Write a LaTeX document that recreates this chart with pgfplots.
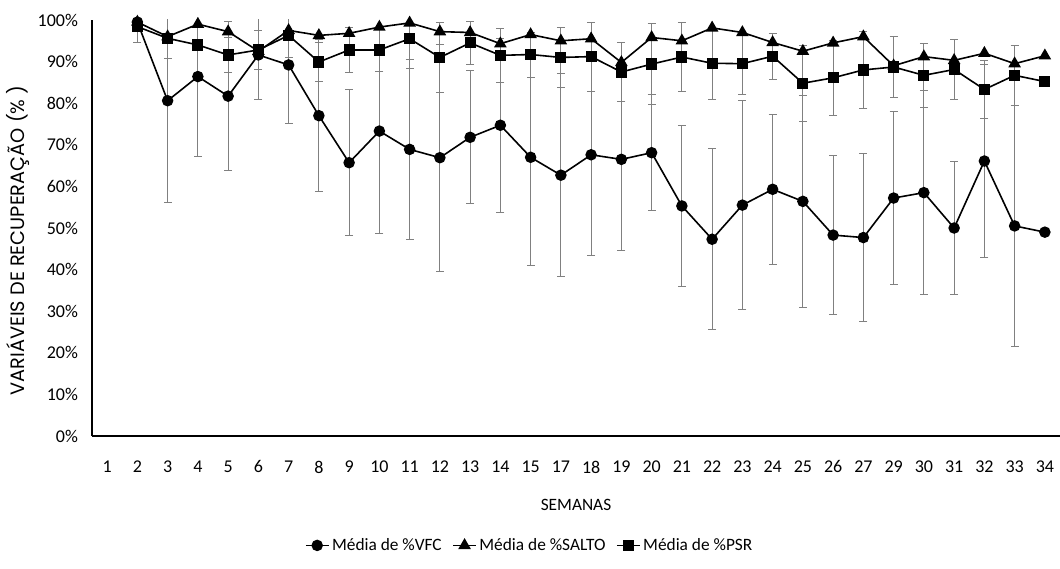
\documentclass[border=0pt]{standalone}
\usepackage{pgfplots}
\pgfplotsset{compat=1.18}
\usepackage{pgfplotstable}
\usepackage{fontspec}
\setmainfont{Carlito}
\newfontfamily\gothic{Poppins}

% x = posicao da categoria (0 = semana 1)
\pgfplotstableread{
x  vfc  evfc  salto  psr   epsr
1  99.5  0.0  99.5   98.4  3.8
2  80.6 24.4  96.0   95.6  4.8
3  86.4 19.3  99.0   94.0  6.6
4  81.7 17.9  97.2   91.6  4.3
5  91.6 10.8  92.5   92.8  4.7
6  89.2 14.1  97.5   96.3  5.3
7  77.0 18.3  96.3   89.9  4.6
8  65.7 17.5  96.8   92.8  5.3
9  73.3 24.7  98.3   92.8  5.2
10 68.9 21.6  99.3   95.5  7.1
11 66.9 27.3  97.2   91.0  8.5
12 71.8 16.0  97.0   94.5  5.2
13 74.7 20.9  94.3   91.5  6.5
14 67.0 25.9  96.5   91.7  5.4
15 62.7 24.4  95.0   91.0  7.3
16 67.6 24.3  95.5   91.2  8.3
17 66.5 21.9  89.8   87.5  7.2
18 68.1 14.0  95.8   89.4  9.7
19 55.3 19.3  95.0   91.1  8.3
20 47.3 21.7  98.1   89.6  8.7
21 55.5 25.1  97.0   89.5  7.4
22 59.3 18.1  94.6   91.3  5.5
23 56.4 25.5  92.5   84.8  9.1
24 48.3 19.1  94.5   86.1  9.1
25 47.7 20.2  96.0   88.0  9.2
26 57.2 20.7  89.0   88.7  7.4
27 58.5 24.5  91.2   86.7  7.7
28 50.0 15.9  90.3   88.1  7.3
29 66.1 23.2  92.0   83.3  6.9
30 50.5 29.0  89.5   86.7  7.2
31 49.0  0.0  91.4   85.2  0.0
}\dados

\begin{document}
\begin{tikzpicture}
\useasboundingbox (-69pt,-99pt) rectangle (726pt,327pt);
\begin{axis}[
    scale only axis,
    width=726pt, height=312pt,
    xmin=-0.5, xmax=31.5,
    ymin=0, ymax=100,
    axis lines=left,
    axis line style={-, black, line width=1pt},
    xtick={0,...,31},
    xticklabels={1,2,3,4,5,6,7,8,9,10,11,12,13,14,15,17,18,19,20,21,22,23,24,25,26,27,29,30,31,32,33,34},
    ytick={0,10,...,100},
    yticklabel={\pgfmathprintnumber{\tick}\%},
    major tick length=0pt,
    /pgf/number format/assume math mode=true,
    tick label style={font=\fontsize{13.5}{15}\selectfont},
    xticklabel style={yshift=-15pt},
    yticklabel style={xshift=-7pt},
    xlabel={SEMANAS},
    xlabel style={at={(axis description cs:0.5,0)}, anchor=center, yshift=-52pt, font=\fontsize{13}{15}\selectfont},
    ylabel={\gothic VARIÁVEIS DE RECUPERAÇÃO (\% )},
    ylabel style={at={(axis description cs:-0.076,0.47)}, anchor=center, font=\fontsize{14.5}{16}\selectfont},
    legend style={at={(axis description cs:0.4525,-0.263)}, anchor=center, draw=none,
        font=\fontsize{13}{15}\selectfont, legend columns=3,
        /tikz/every even column/.append style={column sep=6pt}},
    legend image post style={line width=1.2pt},
]
\addplot[black, line width=1.2pt, mark=*, mark size=3.7pt,
    error bars/.cd, y dir=both, y explicit,
    error bar style={gray, line width=0.7pt},
    error mark options={rotate=90, gray, mark size=3pt, line width=0.7pt}]
    table[x=x, y=vfc, y error=evfc] {\dados};
\addlegendentry{Média de \%VFC}
\addplot[black, line width=1.2pt, mark=triangle*, mark size=4.3pt]
    table[x=x, y=salto] {\dados};
\addlegendentry{Média de \%SALTO}
\addplot[black, line width=1.2pt, mark=square*, mark size=3.6pt,
    error bars/.cd, y dir=both, y explicit,
    error bar style={gray, line width=0.7pt},
    error mark options={rotate=90, gray, mark size=3pt, line width=0.7pt}]
    table[x=x, y=psr, y error=epsr] {\dados};
\addlegendentry{Média de \%PSR}
\end{axis}
\end{tikzpicture}
\end{document}
